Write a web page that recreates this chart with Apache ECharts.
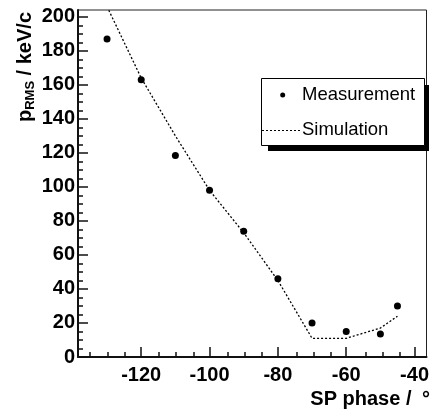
<!DOCTYPE html>
<html><head><meta charset="utf-8">
<script src="https://cdn.jsdelivr.net/npm/echarts@6/dist/echarts.min.js"></script>
<style>html,body{margin:0;padding:0;background:#fff}#c{width:432px;height:414px}</style>
</head><body><div id="c"></div>
<script>
// ---- data ----
const phase = [-130, -120, -110, -100, -90, -80, -70, -60, -50, -45];
const measured = [187, 163, 118.5, 98, 74, 46, 20, 15, 13.5, 30];
const simulated = [206, 164, 130, 98, 73, 45, 11, 11, 17, 24];
const xMajorTicks = [-120, -100, -80, -60, -40];
const xMinorTicks = [-135, -130, -125, -115, -110, -105, -95, -90, -85, -75, -70, -65, -55, -50, -45];
const yMajorTicks = [0, 20, 40, 60, 80, 100, 120, 140, 160, 180, 200];
const yMinorTicks = [5, 10, 15, 25, 30, 35, 45, 50, 55, 65, 70, 75, 85, 90, 95, 105, 110, 115, 125, 130, 135, 145, 150, 155, 165, 170, 175, 185, 190, 195];

const FONT = 'Liberation Sans, Arial, Helvetica, sans-serif';
const chart = echarts.init(document.getElementById('c'), null, {renderer: 'canvas'});
const X_MIN = -138.5, X_MAX = -36.5, Y_MIN = 0, Y_MAX = 204;
const gridRect = {left: 78, right: 3, top: 10, bottom: 57};

const measPts = phase.map((p, i) => [p, measured[i]]);
const simPts = phase.map((p, i) => [p, simulated[i]]);

chart.setOption({
  animation: false,
  backgroundColor: '#fff',
  grid: [
    Object.assign({show: true, borderColor: '#222', borderWidth: 1, backgroundColor: 'transparent'}, gridRect),
    Object.assign({show: false}, gridRect)
  ],
  xAxis: [
    {
      type: 'value', gridIndex: 0, min: X_MIN, max: X_MAX, position: 'bottom',
      axisLine: {show: true, onZero: false, lineStyle: {color: '#111', width: 2}},
      axisTick: {show: true, inside: true, length: 10, customValues: xMajorTicks, lineStyle: {color: '#111', width: 1.5}},
      axisLabel: {show: true, customValues: xMajorTicks, margin: 8, color: '#000', fontSize: 20, fontWeight: 'bold', fontFamily: FONT},
      splitLine: {show: false}
    },
    {
      type: 'value', gridIndex: 1, min: X_MIN, max: X_MAX, position: 'bottom',
      axisLine: {show: false, onZero: false},
      axisTick: {show: true, inside: true, length: 5, customValues: xMinorTicks, lineStyle: {color: '#111', width: 1.5}},
      axisLabel: {show: false},
      splitLine: {show: false}
    }
  ],
  yAxis: [
    {
      type: 'value', gridIndex: 0, min: Y_MIN, max: Y_MAX, position: 'left',
      axisLine: {show: true, onZero: false, lineStyle: {color: '#111', width: 2}},
      axisTick: {show: true, inside: true, length: 10, customValues: yMajorTicks, lineStyle: {color: '#111', width: 1.5}},
      axisLabel: {show: true, customValues: yMajorTicks, margin: 3, color: '#000', fontSize: 20, fontWeight: 'bold', fontFamily: FONT},
      splitLine: {show: false}
    },
    {
      type: 'value', gridIndex: 1, min: Y_MIN, max: Y_MAX, position: 'left',
      axisLine: {show: false, onZero: false},
      axisTick: {show: true, inside: true, length: 5, customValues: yMinorTicks, lineStyle: {color: '#111', width: 1.5}},
      axisLabel: {show: false},
      splitLine: {show: false}
    }
  ],
  series: [
    {
      name: 'Simulation', type: 'line', xAxisIndex: 0, yAxisIndex: 0,
      data: simPts, symbol: 'none', clip: true, smooth: false,
      lineStyle: {color: '#000', width: 1.3, type: [2, 2]}
    },
    {
      name: 'Measurement', type: 'scatter', xAxisIndex: 0, yAxisIndex: 0,
      data: measPts, symbol: 'circle', symbolSize: 7,
      itemStyle: {color: '#000', opacity: 1}
    }
  ],
  graphic: [
    // legend shadow and box
    {type: 'rect', z: 100, shape: {x: 268, y: 85, width: 161, height: 66}, style: {fill: '#000'}},
    {type: 'rect', z: 101, shape: {x: 261.5, y: 78.5, width: 163, height: 67}, style: {fill: '#fff', stroke: '#000', lineWidth: 1}},
    {type: 'circle', z: 102, shape: {cx: 282.7, cy: 95, r: 2.5}, style: {fill: '#000'}},
    {type: 'text', z: 102, x: 302, y: 95, style: {text: 'Measurement', font: '18.5px ' + FONT, fill: '#000', align: 'left', verticalAlign: 'middle'}},
    {type: 'line', z: 102, shape: {x1: 262, y1: 130.5, x2: 300, y2: 130.5}, style: {stroke: '#000', lineWidth: 1, lineDash: [2, 2]}},
    {type: 'text', z: 102, x: 302, y: 130, style: {text: 'Simulation', font: '18.5px ' + FONT, fill: '#000', align: 'left', verticalAlign: 'middle'}},
    // axis titles
    {type: 'text', z: 102, x: 430, y: 399, style: {
      text: '{a|SP phase / }{b|°}', align: 'right', verticalAlign: 'middle',
      rich: {
        a: {fontSize: 20, fontWeight: 'bold', fontFamily: FONT, fill: '#000', lineHeight: 20},
        b: {fontSize: 20, fontWeight: 'bold', fontFamily: FONT, fill: '#000', lineHeight: 20, padding: [0, 0, 0, 5]}
      }
    }},
    {type: 'text', z: 102, x: 25, y: 12, rotation: Math.PI / 2, style: {
      text: '{a|p}{b|RMS}{a| / keV/c}', align: 'right', verticalAlign: 'middle',
      rich: {
        a: {fontSize: 20, fontWeight: 'bold', fontFamily: FONT, fill: '#000', lineHeight: 24},
        b: {fontSize: 13, fontWeight: 'bold', fontFamily: FONT, fill: '#000', lineHeight: 13, verticalAlign: 'bottom'}
      }
    }}
  ]
});
</script>
</body></html>
